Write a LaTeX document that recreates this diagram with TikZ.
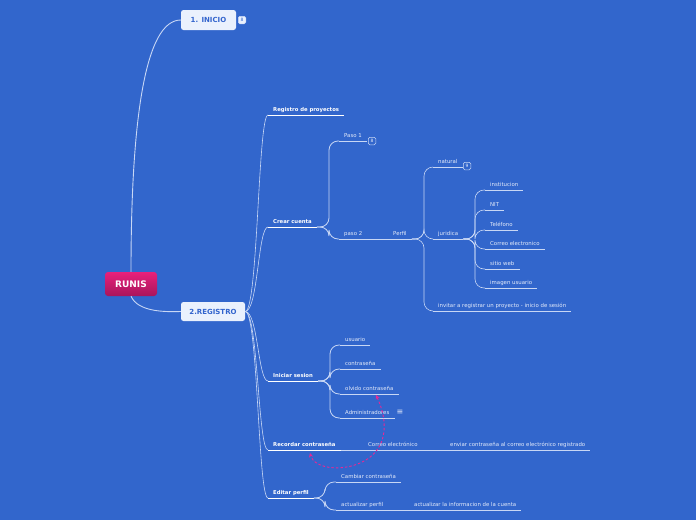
\documentclass[tikz,border=0pt]{standalone}
\usepackage{fontspec}
\setmainfont{DejaVu Sans}
\definecolor{bgblue}{RGB}{50,102,204}
\definecolor{linec}{RGB}{200,215,245}
\definecolor{subtxt}{RGB}{228,235,250}
\definecolor{boxfill}{RGB}{234,241,253}
\definecolor{boxtxt}{RGB}{50,100,205}
\definecolor{runisT}{RGB}{232,32,122}
\definecolor{runisB}{RGB}{168,22,92}
\definecolor{pinkc}{RGB}{230,40,150}
\tikzset{
  topic/.style={anchor=south west, inner xsep=5pt, inner ysep=3.2pt, text depth=0pt, text=white,
    font=\bfseries\fontsize{5.3}{6}\selectfont,
    append after command={(\tikzlastnode.south west) edge[white, line width=0.9pt] (\tikzlastnode.south east)}},
  leaf/.style={anchor=south west, inner xsep=5pt, inner ysep=3.2pt, text depth=0pt, text=subtxt,
    font=\fontsize{5.4}{6}\selectfont,
    append after command={(\tikzlastnode.south west) edge[linec, line width=0.6pt] (\tikzlastnode.south east)}},
  mainbox/.style={fill=boxfill, rounded corners=2.5pt, text=boxtxt, font=\bfseries\fontsize{7}{8}\selectfont},
  badge/.style={draw=linec, line width=0.5pt, rounded corners=1.5pt, inner sep=0pt, minimum size=7.5pt,
    text=subtxt, font=\fontsize{4.5}{5}\selectfont},
  branch/.style={linec, line width=0.8pt, rounded corners=9pt},
  trunk/.style={linec, line width=0.6pt},
}
\begin{document}
\begin{tikzpicture}[x=1pt,y=-1pt]
\fill[bgblue] (0,0) rectangle (696,520);
\useasboundingbox (0,0) rectangle (696,520);

% central topic and main boxes
\node[rounded corners=3pt, top color=runisT, bottom color=runisB, minimum width=52pt, minimum height=24pt,
  text=white, font=\bfseries\fontsize{9}{10}\selectfont] (runis) at (131,284) {RUNIS};
\node[mainbox, minimum width=55pt, minimum height=20pt] (inicio) at (208.5,20) {1. INICIO};
\node[badge, fill=boxfill, text=boxtxt] (inicioN) at (242,20) {8};
\node[mainbox, minimum width=64pt, minimum height=19pt] (registro) at (213,311.5) {2.REGISTRO};
\draw[trunk, line width=0.9pt] (runis.north) .. controls (131,120) and (145,20) .. (inicio.west);
\draw[trunk, line width=0.9pt] (runis.south) .. controls (138,312) and (165,312) .. (registro.west);

% first level under 2.REGISTRO
\foreach \n/\y/\t in {reg/115/Registro de proyectos, crear/227/Crear cuenta, iniciar/381/Iniciar sesion,
    recordar/450/Recordar contraseña, editar/498/Editar perfil} {
  \node[topic] (\n) at (268,\y) {\t};
  \draw[trunk] (registro.east) .. controls (258,311.5) and (258,\y) .. (\n.south west);
};

% Crear cuenta
\node[leaf] (paso1) at (339,141) {Paso 1};
\node[badge] (paso1N) at (372,141) {8};
\node[leaf] (paso2) at (339,239) {paso 2};
\node[leaf] (perfil) at (388,239) {Perfil};
\coordinate (crearB) at (329,227);
\draw[branch] (crear.south east) -- (crearB) |- (paso1.south west);
\draw[branch] (crear.south east) -- (crearB) |- (paso2.south west);
\draw[linec, line width=0.6pt] (paso2.south east) -- (perfil.south west);

% Perfil
\node[leaf] (natural) at (433,167) {natural};
\node[badge] (naturalN) at (467,166) {9};
\node[leaf] (juridica) at (433,239) {juridica};
\node[leaf] (invitar) at (433,311) {invitar a registrar un proyecto - inicio de sesión};
\coordinate (perfilB) at (424,239);
\foreach \c in {natural, juridica, invitar} { \draw[branch, line width=0.6pt] (perfil.south east) -- (perfilB) |- (\c.south west); };

% juridica
\coordinate (juridicaB) at (475,239);
\foreach \n/\y/\t in {inst/190/institucion, nit/210/NIT, tel/230/Teléfono, correoJ/249/Correo electronico,
    web/269/sitio web, imagen/288/imagen usuario} {
  \node[leaf] (\n) at (485,\y) {\t};
  \draw[branch, line width=0.6pt] (juridica.south east) -- (juridicaB) |- (\n.south west);
};

% Iniciar sesion
\coordinate (iniciarB) at (330,381);
\foreach \n/\y/\t in {usuario/345/usuario, contra/369/contraseña, olvido/394/olvido contraseña,
    admin/418/Administradores} {
  \node[leaf] (\n) at (340,\y) {\t};
  \draw[branch] (iniciar.south east) -- (iniciarB) |- (\n.south west);
};
\node[text=subtxt, font=\fontsize{8}{8}\selectfont, inner sep=0pt] (adminN) at (400,412) {≡};

% Recordar contraseña
\node[leaf] (correoR) at (363,450) {Correo electrónico};
\node[leaf] (enviar) at (445,450) {enviar contraseña al correo electrónico registrado};
\draw[linec, line width=0.7pt] (recordar.south east) -- (correoR.south west);
\draw[linec, line width=0.6pt] (correoR.south east) -- (enviar.south west);

% Editar perfil
\coordinate (editarB) at (325,498);
\node[leaf] (cambiar) at (336,482) {Cambiar contraseña};
\node[leaf] (actualizar) at (336,510) {actualizar perfil};
\node[leaf] (actinfo) at (409,510) {actualizar la informacion de la cuenta};
\draw[branch] (editar.south east) -- (editarB) |- (cambiar.south west);
\draw[branch] (editar.south east) -- (editarB) |- (actualizar.south west);
\draw[linec, line width=0.6pt] (actualizar.south east) -- (actinfo.south west);

% relation
\coordinate (relA) at (376,395);
\coordinate (relB) at (310,453);
\draw[pinkc, line width=0.9pt, dash pattern=on 2.5pt off 2pt, <->, >=stealth] (relA) .. controls (390,425) and (386,452) .. (360,463)
  .. controls (340,472) and (314,468) .. (relB);
\end{tikzpicture}
\end{document}
